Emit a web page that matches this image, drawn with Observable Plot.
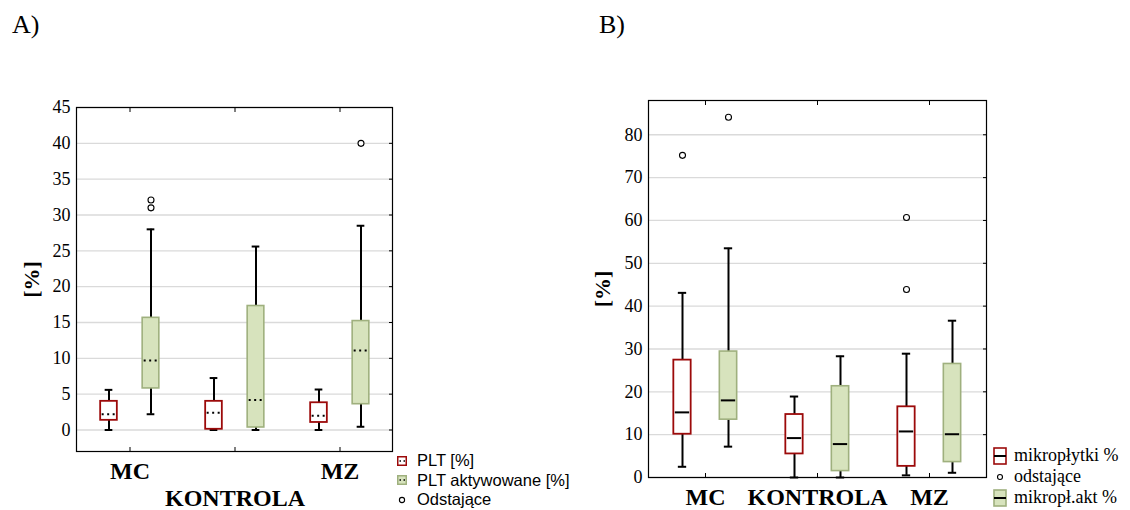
<!DOCTYPE html>
<html>
<head>
<meta charset="utf-8">
<script src="https://cdn.jsdelivr.net/npm/d3@7"></script>
<script src="https://cdn.jsdelivr.net/npm/@observablehq/plot@0.6"></script>
<style>
  body { margin: 0; background: #fff; }
  #page { position: relative; width: 1130px; height: 510px; overflow: hidden;
          font-family: "Liberation Serif", "Times New Roman", serif; color: #000; }
  .panel { position: absolute; top: 0; }
  .tag { position: absolute; top: 12px; font-size: 26px; line-height: 1; }
  .legend { position: absolute; }
  .legend .row { display: flex; align-items: center; white-space: nowrap; }
  .legend svg { display: block; flex: none; }
  #legendA { left: 397px; top: 451px; font-family: "Liberation Sans", Arial, sans-serif; font-size: 16.5px; }
  #legendA .row { height: 19.5px; line-height: 19.5px; }
  #legendA svg { margin-right: 10px; }
  #legendB { left: 993px; top: 445px; font-size: 18px; }
  #legendB .row { height: 21px; line-height: 21px; }
  #legendB svg { margin-right: 7px; }
</style>
</head>
<body>
<div id="page">
  <div class="tag" style="left:12px">A)</div>
  <div class="tag" style="left:599px">B)</div>
  <div class="legend" id="legendA">
    <div class="row"><svg width="10" height="10"><rect x="0.75" y="0.75" width="8.5" height="8.5" fill="#fff" stroke="#9c0a0a" stroke-width="1.5"/><line x1="2.5" x2="8" y1="5" y2="5" stroke="#000" stroke-width="1.5" stroke-dasharray="1.5,2.5"/></svg>PLT [%]</div>
    <div class="row"><svg width="10" height="10"><rect x="0.75" y="0.75" width="8.5" height="8.5" fill="#d7e3bd" stroke="#9fb07e" stroke-width="1.5"/><line x1="2.5" x2="8" y1="5" y2="5" stroke="#000" stroke-width="1.5" stroke-dasharray="1.5,2.5"/></svg>PLT aktywowane [%]</div>
    <div class="row"><svg width="10" height="10"><circle cx="5" cy="5" r="2.6" fill="#fff" stroke="#000" stroke-width="1.1"/></svg>Odstające</div>
  </div>
  <div class="legend" id="legendB">
    <div class="row"><svg width="14" height="18"><rect x="1" y="1" width="12" height="16" fill="#fff" stroke="#9c0a0a" stroke-width="1.6"/><line x1="1" x2="13" y1="9" y2="9" stroke="#000" stroke-width="2"/></svg>mikropłytki %</div>
    <div class="row"><svg width="14" height="18"><circle cx="7" cy="9" r="2.5" fill="#fff" stroke="#000" stroke-width="1.1"/></svg>odstające</div>
    <div class="row"><svg width="14" height="18"><rect x="1" y="1" width="12" height="16" fill="#d7e3bd" stroke="#9fb07e" stroke-width="1.6"/><line x1="1" x2="13" y1="9" y2="9" stroke="#000" stroke-width="2"/></svg>mikropł.akt %</div>
  </div>
</div>
<script>
// Groups shown on both panels
const categories = ["MC", "KONTROLA", "MZ"];

// Panel A — PLT [%]: whisker ends, quartiles, median
const pltMin    = [0,    0,    0];
const pltQ1     = [1.35, 0.1,  1.05];
const pltMedian = [2.2,  2.4,  2.0];
const pltQ3     = [4.0,  4.0,  3.8];
const pltMax    = [5.6,  7.25, 5.65];

// Panel A — PLT aktywowane [%]
const aktMin    = [2.2,  0,    0.45];
const aktQ1     = [5.8,  0.35, 3.6];
const aktMedian = [9.7,  4.2,  11.1];
const aktQ3     = [15.65, 17.3, 15.2];
const aktMax    = [28,   25.6, 28.5];
const aktOutlierGroups = ["MC", "MC", "MZ"];
const aktOutlierValues = [32.1, 31.0, 40];

// Panel B — mikropłytki %
const mikroMin    = [2.5,  0,    0.5];
const mikroQ1     = [10.1, 5.5,  2.6];
const mikroMedian = [15.2, 9.2,  10.75];
const mikroQ3     = [27.4, 14.7, 16.5];
const mikroMax    = [43.1, 18.9, 28.9];
const mikroOutlierGroups = ["MC", "MZ", "MZ"];
const mikroOutlierValues = [75.2, 60.7, 43.9];

// Panel B — mikropł.akt %
const mikroAktMin    = [7.2,  0,    1.1];
const mikroAktQ1     = [13.5, 1.5,  3.6];
const mikroAktMedian = [18.0, 7.8,  10.1];
const mikroAktQ3     = [29.4, 21.3, 26.5];
const mikroAktMax    = [53.5, 28.3, 36.6];
const mikroAktOutlierGroups = ["MC"];
const mikroAktOutlierValues = [84.1];

// Tick values of the two y axes
const yTicksA = [0, 5, 10, 15, 20, 25, 30, 35, 40, 45];
const yTicksB = [0, 10, 20, 30, 40, 50, 60, 70, 80];

const RED = "#9c0a0a", GREEN_FILL = "#d7e3bd", GREEN_STROKE = "#9fb07e";

function summary(lo, q1, med, q3, hi) {
  return categories.map((cat, i) => ({cat, lo: lo[i], q1: q1[i], med: med[i], q3: q3[i], hi: hi[i]}));
}
function points(groups, values) {
  return groups.map((cat, i) => ({cat, v: values[i]}));
}

// One box-and-whisker series, shifted by `offset` px from the group centre
function seriesMarks(rows, outliers, style, offset, geo) {
  const inset = (w) => ({insetLeft: geo.bw / 2 + offset - w / 2, insetRight: geo.bw / 2 - offset - w / 2});
  return [
    Plot.ruleX(rows, {x: "cat", y1: "lo", y2: "hi", dx: offset, stroke: "#000", strokeWidth: 2}),
    Plot.tickY(rows, {x: "cat", y: "lo", ...inset(geo.capW), stroke: "#000", strokeWidth: 2}),
    Plot.tickY(rows, {x: "cat", y: "hi", ...inset(geo.capW), stroke: "#000", strokeWidth: 2}),
    Plot.barY(rows, {x: "cat", y1: "q1", y2: "q3", ...inset(geo.boxW),
      fill: style.fill, stroke: style.stroke, strokeWidth: style.strokeWidth}),
    Plot.tickY(rows, {x: "cat", y: "med", ...inset(geo.boxW - 3), stroke: "#000",
      strokeWidth: 2, strokeDasharray: geo.medianDash}),
    Plot.dot(outliers, {x: "cat", y: "v", dx: offset, r: 3, fill: "#fff", stroke: "#000", strokeWidth: 1.1})
  ];
}

function panel(geo) {
  const bw = (geo.width - geo.marginLeft - geo.marginRight) / categories.length;
  const g = {...geo, bw};
  return Plot.plot({
    width: geo.width, height: 510,
    marginLeft: geo.marginLeft, marginRight: geo.marginRight,
    marginTop: geo.marginTop, marginBottom: geo.marginBottom,
    style: {fontFamily: "'Liberation Serif', 'Times New Roman', serif", fontSize: "18px",
            background: "transparent", overflow: "visible", color: "#000"},
    x: {type: "band", domain: categories, padding: 0},
    y: {domain: geo.yDomain},
    marks: [
      Plot.gridY(geo.yTicks, {stroke: "#dadada", strokeOpacity: 1, strokeWidth: 1.3}),
      Plot.axisY(geo.yTicks, {anchor: "left", tickSize: 0, tickPadding: 6, label: null, fontSize: 18}),
      Plot.axisY(geo.yTicks, {anchor: "right", tickSize: -4, tickFormat: () => "", label: null}),
      Plot.axisX({anchor: "bottom", tickSize: -4, tickFormat: () => "", label: null}),
      Plot.axisX({anchor: "top", tickSize: -4, tickFormat: () => "", label: null}),
      ...seriesMarks(geo.first.rows, geo.first.outliers, geo.first, -geo.offset, g),
      ...seriesMarks(geo.second.rows, geo.second.outliers, geo.second, geo.offset, g),
      Plot.frame({stroke: "#000", strokeWidth: 1.2}),
      // group names under the axis; panel A drops the middle one to a second line
      Plot.text(categories, {x: d => d, text: d => d, filter: (d, i) => !geo.stagger || i % 2 === 0,
        frameAnchor: "bottom", lineAnchor: "bottom", dy: 27, fontSize: 24, fontWeight: "bold"}),
      Plot.text(categories, {x: d => d, text: d => d, filter: (d, i) => geo.stagger && i % 2 === 1,
        frameAnchor: "bottom", lineAnchor: "bottom", dy: 54, fontSize: 24, fontWeight: "bold"}),
      Plot.text(["[%]"], {text: d => d, frameAnchor: "left", textAnchor: "middle", dx: geo.labelDx,
        rotate: -90, fontSize: 22, fontWeight: "bold"})
    ]
  });
}

const page = document.getElementById("page");

const chartA = panel({
  width: 400, marginLeft: 76, marginRight: 8, marginTop: 107, marginBottom: 59,
  yDomain: [-3, 45], yTicks: yTicksA, offset: 21, boxW: 17, capW: 8,
  medianDash: "2,3.5", stagger: true, labelDx: -45,
  first:  {rows: summary(pltMin, pltQ1, pltMedian, pltQ3, pltMax), outliers: [],
           fill: "#fff", stroke: RED, strokeWidth: 1.8},
  second: {rows: summary(aktMin, aktQ1, aktMedian, aktQ3, aktMax),
           outliers: points(aktOutlierGroups, aktOutlierValues),
           fill: GREEN_FILL, stroke: GREEN_STROKE, strokeWidth: 1.6}
});
chartA.classList.add("panel");
chartA.style.left = "0px";
page.appendChild(chartA);

const chartB = panel({
  width: 430, marginLeft: 88, marginRight: 4, marginTop: 100, marginBottom: 33,
  yDomain: [0, 88], yTicks: yTicksB, offset: 23, boxW: 18, capW: 9,
  medianDash: null, stagger: false, labelDx: -46,
  first:  {rows: summary(mikroMin, mikroQ1, mikroMedian, mikroQ3, mikroMax),
           outliers: points(mikroOutlierGroups, mikroOutlierValues),
           fill: "#fff", stroke: RED, strokeWidth: 1.8},
  second: {rows: summary(mikroAktMin, mikroAktQ1, mikroAktMedian, mikroAktQ3, mikroAktMax),
           outliers: points(mikroAktOutlierGroups, mikroAktOutlierValues),
           fill: GREEN_FILL, stroke: GREEN_STROKE, strokeWidth: 1.6}
});
chartB.classList.add("panel");
chartB.style.left = "560px";
page.appendChild(chartB);
</script>
</body>
</html>
